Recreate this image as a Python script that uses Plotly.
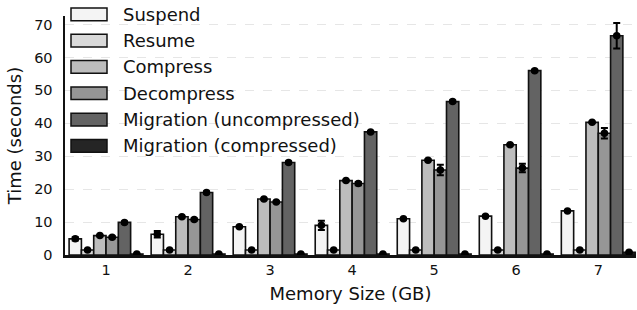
import plotly.graph_objects as go

groups = [1, 2, 3, 4, 5, 6, 7]
series_names = ["Suspend", "Resume", "Compress", "Decompress",
                "Migration (uncompressed)", "Migration (compressed)"]

suspend = [4.9, 6.3, 8.6, 9.0, 11.0, 11.8, 13.4]
suspend_err = [0.5, 1.0, 0.2, 1.4, 0.2, 0.2, 0.2]
resume = [1.5, 1.5, 1.5, 1.5, 1.5, 1.5, 1.5]
resume_err = [0.1, 0.1, 0.1, 0.1, 0.1, 0.1, 0.1]
compress = [5.9, 11.6, 17.0, 22.6, 28.8, 33.5, 40.3]
compress_err = [0.2, 0.2, 0.2, 0.2, 0.2, 0.2, 0.2]
decompress = [5.4, 10.8, 16.1, 21.7, 25.8, 26.4, 37.0]
decompress_err = [0.3, 0.3, 0.3, 0.5, 1.6, 1.3, 1.6]
mig_uncompressed = [9.9, 19.0, 28.1, 37.4, 46.6, 56.0, 66.6]
mig_uncompressed_err = [0.3, 0.3, 0.3, 0.3, 0.3, 0.3, 3.9]
mig_compressed = [0.3, 0.3, 0.3, 0.3, 0.3, 0.3, 0.8]
mig_compressed_err = [0.05, 0.05, 0.05, 0.05, 0.05, 0.05, 0.1]

values = [suspend, resume, compress, decompress, mig_uncompressed, mig_compressed]
errors = [suspend_err, resume_err, compress_err, decompress_err,
          mig_uncompressed_err, mig_compressed_err]
colors = ["#f4f4f4", "#d9d9d9", "#bdbdbd", "#969696", "#636363", "#252525"]

BAR_W = 0.15
FONT = "DejaVu Sans"
TXT = "#111111"

fig = go.Figure()
n = len(series_names)
for i, (name, vals, errs, col) in enumerate(zip(series_names, values, errors, colors)):
    xs = [g + (i - (n - 1) / 2) * BAR_W for g in groups]
    fig.add_trace(go.Bar(
        x=xs, y=vals, width=BAR_W, name=name, showlegend=False,
        marker=dict(color=col, line=dict(color="#111111", width=1.6)),
    ))
    fig.add_trace(go.Scatter(
        x=xs, y=vals, mode="markers", showlegend=False,
        marker=dict(color="#000000", size=7.5),
        error_y=dict(type="data", array=errs, visible=True,
                     color="#000000", thickness=2, width=3.5),
        hoverinfo="skip",
    ))

W, H = 637, 310
L, R, T, B = 65, 1, 16, 55
pw, ph = W - L - R, H - T - B

def px_to_paper_x(px):
    return (px - L) / pw

def px_to_paper_y(py):
    return (H - B - py) / ph

shapes = []
annotations = []
for i, (name, col) in enumerate(zip(series_names, colors)):
    top = 8 + i * 26.3
    bot = top + 12.7
    shapes.append(dict(
        type="rect", xref="paper", yref="paper",
        x0=px_to_paper_x(71), x1=px_to_paper_x(107),
        y0=px_to_paper_y(bot), y1=px_to_paper_y(top),
        fillcolor=col, line=dict(color="#111111", width=1.5), layer="above",
    ))
    annotations.append(dict(
        text=name, xref="paper", yref="paper",
        x=px_to_paper_x(121), y=px_to_paper_y((top + bot) / 2),
        xanchor="left", yanchor="middle", showarrow=False,
        font=dict(family=FONT, size=18, color=TXT),
    ))

fig.update_layout(
    width=W, height=H,
    margin=dict(l=L, r=R, t=T, b=B, pad=0),
    plot_bgcolor="white", paper_bgcolor="white",
    barmode="overlay",
    font=dict(family=FONT, color=TXT),
    shapes=shapes, annotations=annotations,
    showlegend=False,
)
fig.update_xaxes(
    range=[0.5, 7.46], tickmode="array", tickvals=groups,
    ticktext=[str(g) for g in groups],
    showline=True, linecolor="#111111", linewidth=3,
    showgrid=False, zeroline=False, ticks="", ticklabelstandoff=0,
    tickfont=dict(family=FONT, size=14.5, color=TXT),
    title=dict(text="Memory Size (GB)", font=dict(family=FONT, size=18, color=TXT),
               standoff=10),
)
fig.update_yaxes(
    range=[0, 72.6], tickmode="array", tickvals=[0, 10, 20, 30, 40, 50, 60, 70],
    showline=True, linecolor="#111111", linewidth=2.5,
    showgrid=True, gridcolor="#e6e6e6", griddash="dash", gridwidth=1,
    zeroline=False, ticks="", ticklabelstandoff=7,
    tickfont=dict(family=FONT, size=14.5, color=TXT),
    title=dict(text="Time (seconds)", font=dict(family=FONT, size=18, color=TXT),
               standoff=8),
)

fig.write_html("out.html",
               config={"displayModeBar": False, "staticPlot": True},
               post_script="document.body.style.margin='0';document.body.style.overflow='hidden';")
